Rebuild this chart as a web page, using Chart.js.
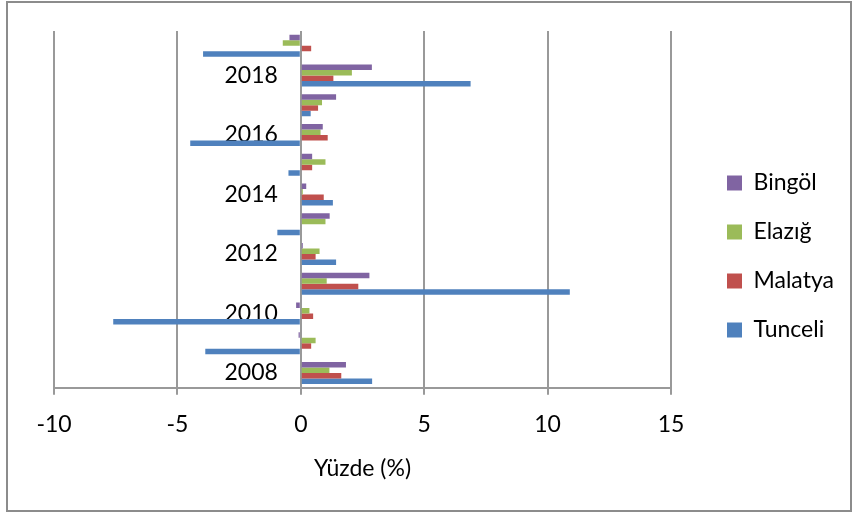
<!DOCTYPE html>
<html>
<head>
<meta charset="utf-8">
<script src="https://cdn.jsdelivr.net/npm/chart.js@4"></script>
<style>
  body { margin: 0; background: #fff; }
  #wrap { position: relative; width: 854px; height: 513px; }
  #frame { position: absolute; left: 6px; top: 1px; width: 842px; height: 507px; border: 2px solid #8c8c8c; pointer-events: none; }
</style>
</head>
<body>
<div id="wrap">
  <canvas id="chart" width="854" height="513"></canvas>
  <div id="frame"></div>
</div>
<script>
// yearly change, %
const years = ['2008', '2009', '2010', '2011', '2012', '2013', '2014', '2015', '2016', '2017', '2018', '2019'];
const bingol  = [1.83, -0.09, -0.19, 2.78, 0.08, 1.17, 0.22, 0.46, 0.89, 1.43, 2.88, -0.46];
const elazig  = [1.16, 0.60, 0.35, 1.05, 0.76, 1.00, 0.08, 1.00, 0.80, 0.86, 2.07, -0.73];
const malatya = [1.64, 0.42, 0.50, 2.33, 0.60, 0.00, 0.93, 0.46, 1.09, 0.70, 1.32, 0.42];
const tunceli = [2.89, -3.87, -7.60, 10.90, 1.43, -0.95, 1.30, -0.50, -4.48, 0.40, 6.88, -3.96];

Chart.defaults.font.family = 'Lato';
Chart.defaults.font.size = 23;
Chart.defaults.color = '#000';

// legend measured a bit short and cut off "Malatya", give it some room
const legendRoom = {
  id: 'legendRoom',
  beforeLayout(chart) {
    const lg = chart.legend;
    if (lg && !lg._roomy) {
      const fit = lg.fit;
      lg.fit = function() { fit.call(this); this.width += 8; };
      lg._roomy = true;
    }
  }
};

const ctx = document.getElementById('chart').getContext('2d');
const chart = new Chart(ctx, {
  type: 'bar',
  data: {
    labels: years,
    datasets: [
      { label: 'Bingöl', data: bingol, backgroundColor: '#8064A2' },
      { label: 'Elazığ', data: elazig, backgroundColor: '#9BBB59' },
      { label: 'Malatya', data: malatya, backgroundColor: '#C0504D' },
      { label: 'Tunceli', data: tunceli, backgroundColor: '#4F81BD' }
    ]
  },
  plugins: [legendRoom],
  options: {
    indexAxis: 'y',
    responsive: false,
    animation: false,
    devicePixelRatio: 1,
    categoryPercentage: 0.74,
    barPercentage: 1,
    layout: { padding: { left: 54, top: 31, right: 14, bottom: 31 } },
    plugins: {
      tooltip: { enabled: false },
      legend: {
        position: 'right',
        labels: { boxWidth: 15, boxHeight: 15, padding: 26 }
      }
    },
    scales: {
      x: {
        min: -10,
        max: 15,
        ticks: { stepSize: 5, padding: 16 },
        grid: { color: '#999', lineWidth: 2, tickLength: 7 },
        border: { color: '#999', width: 2 },
        title: { display: true, text: 'Yüzde (%)', padding: { top: 0, bottom: 0 } }
      },
      y: {
        reverse: true,
        // the zero line comes from the x grid; the axis sits a bit left so labels clear it
        position: { x: -0.93 },
        grid: { display: false },
        border: { display: false },
        ticks: {
          autoSkip: false,
          // only every other year gets a label, like the original
          callback: function(val, index) {
            return index % 2 === 0 ? this.getLabelForValue(val) : '';
          }
        }
      },
      // empty axis, only keeps a gap between plot and legend
      gap: {
        type: 'linear',
        axis: 'y',
        position: 'right',
        grid: { display: false },
        border: { display: false },
        ticks: { display: false },
        afterFit: function(scale) { scale.width = 30; }
      }
    }
  }
});
</script>
</body>
</html>
